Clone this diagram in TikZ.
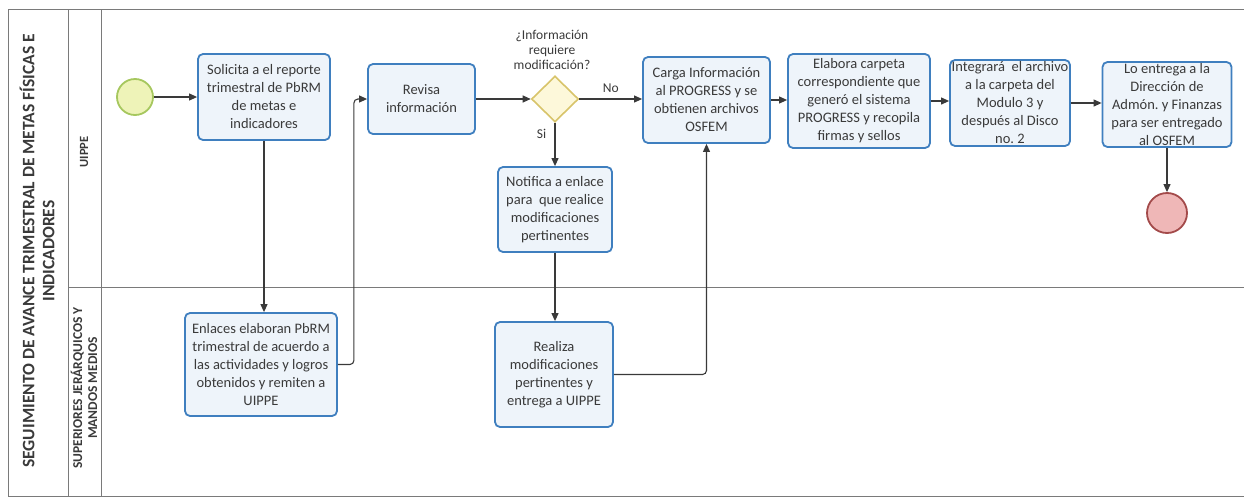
\documentclass[tikz,border=0pt]{standalone}
\usepackage{fontspec}
\setmainfont{Carlito}
\frenchspacing
\usetikzlibrary{arrows.meta,shapes.geometric}

\definecolor{boxfill}{HTML}{EEF4FA}
\definecolor{boxline}{HTML}{3F7FBF}
\definecolor{ink}{HTML}{3A3A3A}
\definecolor{lane}{HTML}{7A7A7A}
\definecolor{startfill}{HTML}{EEF3B8}
\definecolor{startline}{HTML}{A6C75E}
\definecolor{endfill}{HTML}{EFB7B7}
\definecolor{endline}{HTML}{A34A4A}
\definecolor{gatefill}{HTML}{FDF8DA}
\definecolor{gateline}{HTML}{D8C46A}

\tikzset{
  task/.style={draw=boxline, fill=boxfill, line width=1.8pt, rounded corners=5pt,
    inner sep=1pt, align=center, text=ink,
    font=\fontsize{14.5}{18}\selectfont},
  flow/.style={draw=ink, line width=1.1pt, -{Triangle[length=8pt,width=7pt]}},
  lanetext/.style={text=ink, font=\bfseries, align=center, rotate=90},
  guard/.style={text=ink, font=\fontsize{13.5}{15}\selectfont},
}

\begin{document}
\begin{tikzpicture}[x=1pt,y=-1pt]
\useasboundingbox (0,0) rectangle (1244,501);

% pool frame and lanes
\draw[lane, line width=0.9pt] (1244,9) -- (8,9) -- (8,496) -- (1244,496);
\draw[lane, line width=0.9pt] (68,9) -- (68,496);
\draw[lane, line width=0.9pt] (101,9) -- (101,496);
\draw[lane, line width=0.9pt] (68,287) -- (1244,287);

\node[lanetext, font=\bfseries\fontsize{17.5}{20}\selectfont] (pool) at (37,251)
  {SEGUIMIENTO DE AVANCE TRIMESTRAL DE METAS FÍSICAS E\\INDICADORES};
\node[lanetext, font=\bfseries\fontsize{12.5}{14}\selectfont] (laneA) at (84,152) {UIPPE};
\node[lanetext, font=\bfseries\fontsize{13.5}{15}\selectfont] (laneB) at (84,388)
  {SUPERIORES JERÁRQUICOS Y\\MANDOS MEDIOS};

% events
\node[circle, draw=startline, fill=startfill, line width=1.8pt, minimum size=36pt, inner sep=0] (start) at (135,97) {};
\node[circle, draw=endline, fill=endfill, line width=1.8pt, minimum size=40pt, inner sep=0] (stop) at (1167,213) {};

% tasks
\node[task, minimum width=132pt, minimum height=86pt] (solicita) at (264,97)
  {Solicita a el reporte\\trimestral de PbRM\\de metas e\\indicadores};
\node[task, minimum width=107pt, minimum height=70pt] (revisa) at (421.5,99)
  {Revisa\\información};
\node[task, minimum width=127pt, minimum height=86pt] (carga) at (706.5,100)
  {Carga Información\\al PROGRESS y se\\obtienen archivos\\OSFEM};
\node[task, minimum width=142pt, minimum height=94pt] (elabora) at (859,101)
  {Elabora carpeta\\correspondiente que\\generó el sistema\\PROGRESS y recopila\\firmas y sellos};
\node[task, minimum width=120pt, minimum height=86pt] (integra) at (1010,103)
  {Integrará~ el archivo\\a la carpeta del\\Modulo 3 y\\después al Disco\\no. 2};
\node[task, minimum width=129pt, minimum height=85pt] (entrega) at (1167,104.5)
  {Lo entrega a la\\Dirección de\\Admón. y Finanzas\\para ser entregado\\al OSFEM};
\node[task, minimum width=114pt, minimum height=85pt] (notifica) at (555,209.5)
  {Notifica a enlace\\para~ que realice\\modificaciones\\pertinentes};
\node[task, minimum width=152pt, minimum height=103pt] (enlaces) at (261,364.5)
  {Enlaces elaboran PbRM\\trimestral de acuerdo a\\las actividades y logros\\obtenidos y remiten a\\UIPPE};
\node[task, minimum width=118pt, minimum height=105pt] (realiza) at (554,374.5)
  {Realiza\\modificaciones\\pertinentes y\\entrega a UIPPE};

% gateway
\node[diamond, draw=gateline, fill=gatefill, line width=1.6pt, minimum width=47pt, minimum height=46pt, inner sep=0] (gate) at (555,99) {};
\node[guard, align=center] (question) at (552,50) {¿Información\\requiere\\modificación?};

% sequence flows
\draw[flow] (start.east) -- (start.east -| solicita.west);
\draw[flow] (solicita.south) -- (solicita.south |- enlaces.north);
\draw[flow, rounded corners=4pt] (enlaces.east) -- ++(16,0) |- (revisa.west);
\draw[flow] (revisa.east) -- (gate.west);
\draw[flow] (gate.east) -- node[guard, above=3pt] (no) {No} (gate.east -| carga.west);
\draw[flow] (gate.south) -- node[guard, pos=0.25, left=5pt] (si) {Si} (notifica.north);
\draw[flow] (notifica.south) -- (notifica.south |- realiza.north);
\draw[flow, rounded corners=4pt] (realiza.east) -| (carga.south);
\draw[flow] (carga.east) -- (carga.east -| elabora.west);
\draw[flow] (elabora.east) -- (elabora.east -| integra.west);
\draw[flow] (integra.east) -- (integra.east -| entrega.west);
\draw[flow] (entrega.south) -- (stop.north);
\end{tikzpicture}
\end{document}
